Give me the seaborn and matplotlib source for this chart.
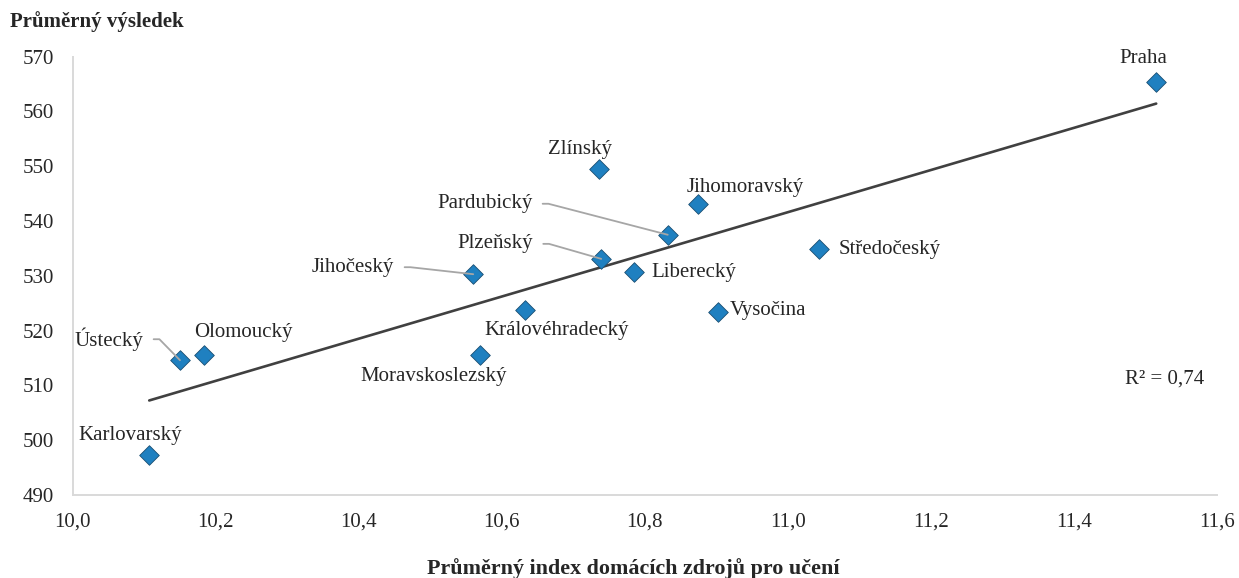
import numpy as np
import pandas as pd
import matplotlib
matplotlib.use("Agg")
import matplotlib.pyplot as plt
from matplotlib.ticker import FuncFormatter
import seaborn as sns

# data
regions = ["Praha", "Zlínský", "Jihomoravský", "Pardubický", "Plzeňský", "Jihočeský",
           "Liberecký", "Královéhradecký", "Vysočina", "Moravskoslezský", "Středočeský",
           "Ústecký", "Olomoucký", "Karlovarský"]
index_values = [11.515, 10.736, 10.875, 10.832, 10.739, 10.560,
                10.785, 10.633, 10.902, 10.569, 11.043,
                10.150, 10.184, 10.107]
score_values = [565.3, 549.5, 543.1, 537.5, 533.1, 530.3,
                530.7, 523.7, 523.4, 515.6, 534.9,
                514.6, 515.5, 497.3]
x_ticks = [10.0, 10.2, 10.4, 10.6, 10.8, 11.0, 11.2, 11.4, 11.6]
y_ticks = [490, 500, 510, 520, 530, 540, 550, 560, 570]
r2_label = "R² = 0,74"
x_title = "Průměrný index domácích zdrojů pro učení"
y_title = "Průměrný výsledek"

df = pd.DataFrame({"region": regions, "index": index_values, "score": score_values})

sns.set_style("white")
plt.rcParams["font.family"] = ["Liberation Serif", "DejaVu Serif"]

text_color = "#262626"
grey = "#d9d9d9"
fs = 15

fig = plt.figure(figsize=(12.39, 5.78), dpi=100)
ax = fig.add_axes([72.7 / 1239, 1 - 495 / 578, (1217 - 72.7) / 1239, (495 - 56.7) / 578])

# trend line
sns.regplot(data=df, x="index", y="score", scatter=False, ci=None, truncate=True,
            line_kws=dict(color="#404040", lw=1.9), ax=ax)

sns.scatterplot(data=df, x="index", y="score", marker="D", s=100, color="#1F80C0",
                edgecolor="#1B4F72", linewidth=0.6, zorder=5, ax=ax)

# label offsets in pixels (dx, dy), alignment, and leader line flag
label_style = {
    "Praha": ((-13, 24), "center", False),
    "Zlínský": ((-19, 20), "center", False),
    "Jihomoravský": ((47, 17), "center", False),
    "Pardubický": ((-183, 31), "center", True),
    "Plzeňský": ((-106, 15), "center", True),
    "Jihočeský": ((-120, 7), "center", True),
    "Liberecký": ((17, 0), "left", False),
    "Královéhradecký": ((31, -20), "center", False),
    "Vysočina": ((12, 2), "left", False),
    "Moravskoslezský": ((-46, -22), "center", False),
    "Středočeský": ((20, 0), "left", False),
    "Ústecký": ((-71, 21), "center", True),
    "Olomoucký": ((39, 23), "center", False),
    "Karlovarský": ((-19, 20), "center", False),
}

for _, row in df.iterrows():
    (dx, dy), ha, leader = label_style[row["region"]]
    kw = {}
    if leader:
        kw["arrowprops"] = dict(arrowstyle="-", color="#a6a6a6", lw=1.3,
                                relpos=(1, 0.5), shrinkA=5, shrinkB=0,
                                connectionstyle="arc,angleA=0,armA=16,angleB=0,armB=0,rad=0")
    ax.annotate(row["region"], (row["index"], row["score"]), xytext=(dx, dy),
                textcoords="offset pixels", ha=ha, va="center", fontsize=fs,
                color=text_color, zorder=6, **kw)

ax.text(1165 / 1239, 1 - 379.3 / 578, r2_label, transform=fig.transFigure,
        ha="center", va="center", fontsize=fs, color=text_color)

ax.set_xlim(10.0, 11.6)
ax.set_ylim(490, 570)
ax.set_xticks(x_ticks)
ax.set_yticks(y_ticks)
ax.xaxis.set_major_formatter(FuncFormatter(lambda v, p: f"{v:.1f}".replace(".", ",")))
ax.set_xlabel("")
ax.set_ylabel("")

for side in ["top", "right"]:
    ax.spines[side].set_visible(False)
for side in ["left", "bottom"]:
    ax.spines[side].set_color(grey)
    ax.spines[side].set_linewidth(1.4)
ax.tick_params(axis="both", direction="out", length=4.5, width=1.2, color=grey,
               labelsize=fs, labelcolor=text_color, pad=9)
ax.tick_params(axis="x", pad=8)

fig.text(10 / 1239, 1 - 22 / 578, y_title, ha="left", va="center",
         fontsize=15, fontweight="bold", color=text_color)
fig.text(633 / 1239, 1 - 574 / 578, x_title, ha="center", va="baseline",
         fontsize=15.8, fontweight="bold", color=text_color)

fig.savefig("out.png", dpi=100)
